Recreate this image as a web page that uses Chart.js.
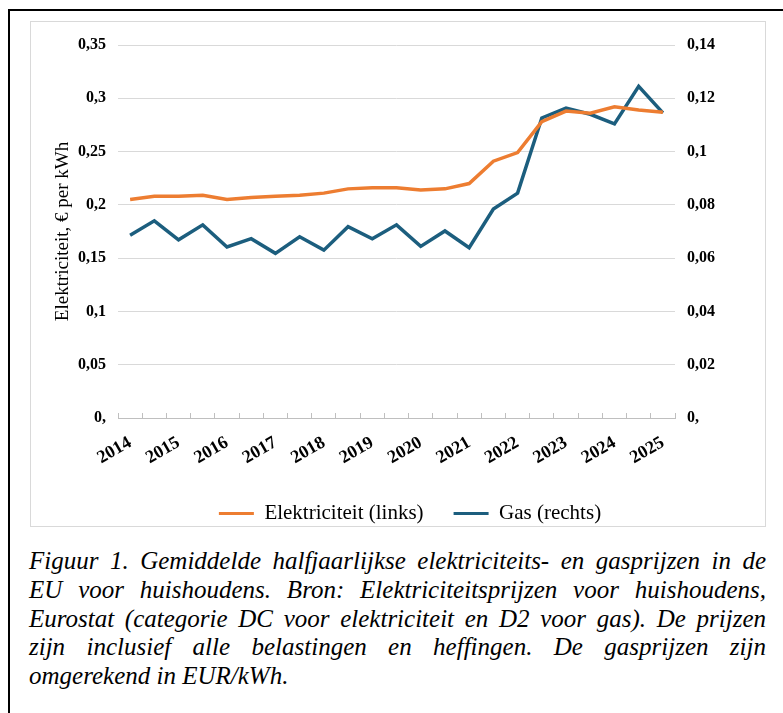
<!DOCTYPE html>
<html>
<head>
<meta charset="utf-8">
<script src="https://cdn.jsdelivr.net/npm/chart.js@4"></script>
<style>
  html, body { margin: 0; padding: 0; background: #fff; }
  body { width: 783px; height: 713px; overflow: hidden; position: relative; }
  #frame {
    position: absolute; left: 8px; top: 9px; width: 800px; height: 720px;
    border: 2px solid #000; box-sizing: border-box;
  }
  #chartBox {
    position: absolute; left: 30px; top: 21px; width: 736px; height: 506px;
    border: 1px solid #d9d9d9; box-sizing: border-box;
  }
  #chartBox canvas { display: block; position: absolute; left: 0; top: 0; }
  #caption {
    position: absolute; left: 29px; top: 547px; width: 737px;
    font-family: 'Liberation Serif', serif;
    font-style: italic; font-size: 25px; line-height: 28.75px; color: #000;
  }
  #caption .ln { text-align: justify; text-align-last: justify; white-space: nowrap; }
  #caption .ln.last { text-align-last: left; }
</style>
</head>
<body>
<div id="frame"></div>
<div id="chartBox"><canvas id="priceChart" width="734" height="512"></canvas></div>
<div id="caption">
  <div class="ln">Figuur 1. Gemiddelde halfjaarlijkse elektriciteits- en gasprijzen in de</div>
  <div class="ln">EU voor huishoudens. Bron: Elektriciteitsprijzen voor huishoudens,</div>
  <div class="ln">Eurostat (categorie DC voor elektriciteit en D2 voor gas). De prijzen</div>
  <div class="ln">zijn inclusief alle belastingen en heffingen. De gasprijzen zijn</div>
  <div class="ln last">omgerekend in EUR/kWh.</div>
</div>

<script>
// half-year periods, 2014 S1 .. 2025 S1 (only S1 gets a year label)
const periods = [
  "2014", "", "2015", "", "2016", "", "2017", "", "2018", "", "2019", "",
  "2020", "", "2021", "", "2022", "", "2023", "", "2024", "", "2025"
];

// EUR per kWh, left axis
const electricity = [
  0.205, 0.208, 0.208, 0.209, 0.205, 0.207, 0.208, 0.209, 0.211, 0.215, 0.216, 0.216,
  0.214, 0.215, 0.220, 0.241, 0.249, 0.278, 0.288, 0.286, 0.292, 0.289, 0.287
];

// EUR per kWh, right axis
const gas = [
  0.0686, 0.0740, 0.0669, 0.0725, 0.0642, 0.0673, 0.0618, 0.0680, 0.0630, 0.0718, 0.0673, 0.0725,
  0.0644, 0.0702, 0.0639, 0.0784, 0.0844, 0.1126, 0.1163, 0.1140, 0.1104, 0.1245, 0.1145
];

const ORANGE = "#ED7D31";
const BLUE = "#1C5E7E";
const SERIF = "'Liberation Serif', serif";

function commaTick(v) {
  if (Math.abs(v) < 1e-9) return "0,";
  return v.toFixed(2).replace(/0$/, "").replace(".", ",");
}

// legend sits a bit right of centre in the original
const legendNudge = {
  id: "legendNudge",
  afterLayout(chart) {
    chart.legend.left += 12;
    chart.legend.right += 12;
  }
};

function drawChart() {
  const ctx = document.getElementById("priceChart").getContext("2d");
  new Chart(ctx, {
    type: "line",
    data: {
      labels: periods,
      datasets: [{
        label: "Elektriciteit (links)",
        data: electricity,
        yAxisID: "yLeft",
        borderColor: ORANGE,
        backgroundColor: ORANGE,
        borderWidth: 3.5,
        pointRadius: 0,
        tension: 0
      }, {
        label: "Gas (rechts)",
        data: gas,
        yAxisID: "yRight",
        borderColor: BLUE,
        backgroundColor: BLUE,
        borderWidth: 3.5,
        pointRadius: 0,
        tension: 0
      }]
    },
    plugins: [legendNudge],
    options: {
      responsive: false,
      animation: false,
      layout: { padding: { top: 23, bottom: 0, left: 0, right: 0 } },
      plugins: {
        tooltip: { enabled: false },
        legend: {
          position: "bottom",
          labels: {
            boxWidth: 35,
            boxHeight: 3,
            padding: 30,
            color: "#000",
            font: { family: SERIF, size: 21 },
            generateLabels: chart =>
              Chart.defaults.plugins.legend.labels.generateLabels(chart)
                .map(item => Object.assign(item, { lineWidth: 0 }))
          }
        }
      },
      scales: {
        x: {
          offset: true,
          grid: {
            offset: true,
            drawOnChartArea: false,
            drawTicks: true,
            tickLength: -5,
            color: "#bfbfbf"
          },
          border: { display: true, color: "#bfbfbf", width: 1 },
          ticks: {
            autoSkip: false,
            maxRotation: 30,
            minRotation: 30,
            padding: 19,
            color: "#000",
            font: { family: SERIF, size: 18, weight: "bold" }
          },
          afterFit: scale => { scale.height = 55; }
        },
        yLeft: {
          position: "left",
          min: 0,
          max: 0.35,
          ticks: {
            stepSize: 0.05,
            padding: 12,
            color: "#000",
            font: { family: SERIF, size: 16, weight: "bold" },
            callback: commaTick
          },
          grid: { color: "#d9d9d9", drawTicks: false },
          border: { display: false },
          title: {
            display: true,
            text: "Elektriciteit, € per kWh",
            color: "#000",
            font: { family: SERIF, size: 19 },
            padding: { top: 21, bottom: 0 }
          },
          afterFit: scale => { scale.width = 87; }
        },
        yRight: {
          position: "right",
          min: 0,
          max: 0.14,
          ticks: {
            stepSize: 0.02,
            padding: 12,
            color: "#000",
            font: { family: SERIF, size: 16, weight: "bold" },
            callback: commaTick
          },
          grid: { drawOnChartArea: false, drawTicks: false },
          border: { display: false },
          afterFit: scale => { scale.width = 90; }
        }
      }
    }
  });
}

Promise.all([
  document.fonts.load("17px 'Liberation Serif'"),
  document.fonts.load("bold 17px 'Liberation Serif'"),
  document.fonts.load("italic 22px 'Liberation Serif'")
]).then(drawChart, drawChart);
</script>
</body>
</html>
